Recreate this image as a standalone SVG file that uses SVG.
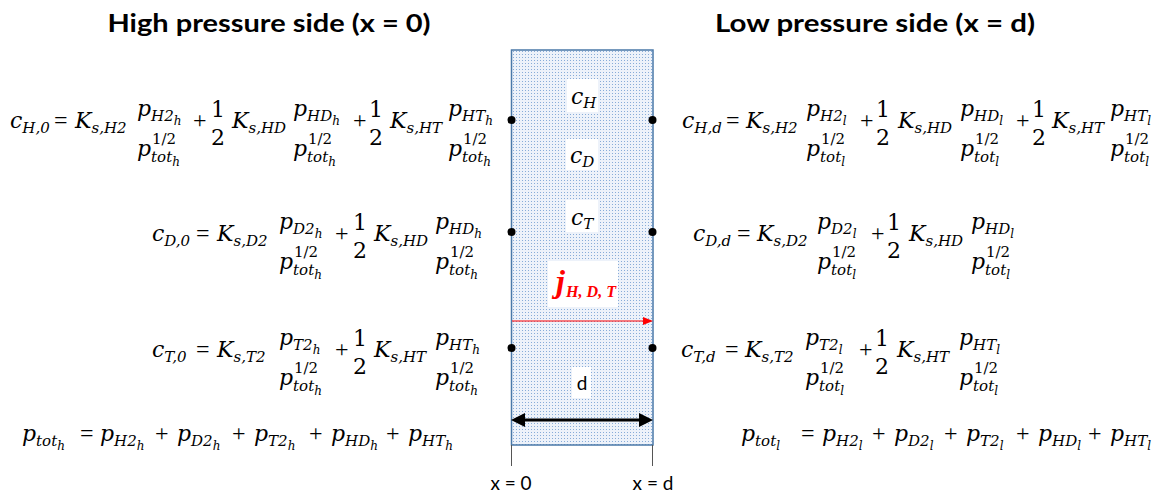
<svg xmlns="http://www.w3.org/2000/svg" width="1169" height="495" viewBox="0 0 1169 495">
<style>
.m{font-family:"DejaVu Serif",serif;font-style:italic;font-size:22px;fill:#000}
.s{font-size:15px}
.ss{font-size:12px}
.n{font-style:normal}
.o{font-family:"Liberation Serif",serif;font-size:24px;fill:#000}
.t{font-family:Lato,"Liberation Sans",sans-serif;font-weight:bold;font-size:25px;fill:#000}
.lab{font-family:Lato,"Liberation Sans",sans-serif;font-size:19px;fill:#000}
.j{font-family:"Liberation Serif",serif;font-style:italic;font-weight:bold;fill:#ff0000}
.dot{fill:#000}
.wb{fill:#fff}
</style>
<defs>
<pattern id="dots" width="3" height="3" patternUnits="userSpaceOnUse">
<rect width="3" height="3" fill="#edf2fa"/>
<rect width="1" height="1" fill="#88acd8"/>
</pattern>
<marker id="arrRed" markerWidth="10" markerHeight="8" refX="0" refY="4" orient="auto" markerUnits="userSpaceOnUse"><path d="M0,0 L10,4 L0,8 z" fill="#ff0000"/></marker>
<marker id="arrBlk" markerWidth="14" markerHeight="14" refX="0" refY="7" orient="auto-start-reverse" markerUnits="userSpaceOnUse"><path d="M0,0 L14,7 L0,14 z" fill="#000"/></marker>
</defs>
<rect width="1169" height="495" fill="#fff"/>

<g id="title-high"><text class="t" x="269" y="32" text-anchor="middle" textLength="323" lengthAdjust="spacingAndGlyphs">High pressure side (x = 0)</text></g>
<g id="title-low"><text class="t" x="875" y="32" text-anchor="middle" textLength="320" lengthAdjust="spacingAndGlyphs">Low pressure side (x = d)</text></g>

<g id="membrane">
<rect x="511.5" y="50" width="141.5" height="395" fill="url(#dots)" stroke="#4a78a8" stroke-width="1.5"/>
<line x1="511.5" y1="445" x2="511.5" y2="466" stroke="#555" stroke-width="1"/>
<line x1="652.5" y1="445" x2="652.5" y2="466" stroke="#555" stroke-width="1"/>
</g>

<g id="label-cH"><rect class="wb" x="567" y="79" width="31" height="33"/><text class="m" x="571" y="104">c<tspan class="s" dy="4">H</tspan></text></g>
<g id="label-cD"><rect class="wb" x="566" y="139" width="32" height="31"/><text class="m" x="570" y="163">c<tspan class="s" dy="4">D</tspan></text></g>
<g id="label-cT"><rect class="wb" x="566" y="200" width="32" height="32"/><text class="m" x="571" y="225">c<tspan class="s" dy="4">T</tspan></text></g>
<g id="label-j"><rect class="wb" x="548" y="261" width="70" height="46"/><text class="j" x="556" y="292" font-size="32">j</text><text class="j" x="566" y="297" font-size="17" textLength="50" lengthAdjust="spacingAndGlyphs">H, D, T</text></g>
<g id="label-d"><rect class="wb" x="572" y="367" width="19" height="31"/><text class="lab" x="582" y="390" text-anchor="middle" font-size="20">d</text></g>

<g id="endpoints">
<circle class="dot" cx="511.5" cy="120" r="4"/><circle class="dot" cx="652.5" cy="120" r="4"/>
<circle class="dot" cx="511.5" cy="232" r="4"/><circle class="dot" cx="652.5" cy="232" r="4"/>
<circle class="dot" cx="511.5" cy="348" r="4"/><circle class="dot" cx="652.5" cy="348" r="4"/>
</g>

<g id="connectors">
<line x1="512" y1="321" x2="643" y2="321" stroke="#ff0000" stroke-width="1" marker-end="url(#arrRed)"/>
<line x1="525" y1="420" x2="639" y2="420" stroke="#000" stroke-width="3" marker-start="url(#arrBlk)" marker-end="url(#arrBlk)"/>
</g>

<g id="axis-labels">
<text class="lab" x="511" y="490" text-anchor="middle">x = 0</text>
<text class="lab" x="653" y="490" text-anchor="middle">x = d</text>
</g>

<!-- Left equations -->
<g id="eq-cH0" transform="translate(10,128)">
<text class="m">c<tspan class="s" dy="5">H,0</tspan></text>
<text class="o" x="44">=</text>
<text class="m" x="65">K<tspan class="s" dy="5">s,H2</tspan></text>
<g transform="translate(127,0)"><text class="m" y="-12">p<tspan class="s" dy="5">H2</tspan><tspan class="ss" dy="4">h</tspan></text><text class="m" y="28">p<tspan class="s" dy="6">tot</tspan><tspan class="ss" dy="4">h</tspan></text><text class="m n s" x="15" y="16">1/2</text></g>
<text class="o" x="183">+</text>
<text class="m n" x="208" y="-11" text-anchor="middle">1</text><text class="m n" x="208" y="17" text-anchor="middle">2</text>
<text class="m" x="222">K<tspan class="s" dy="5">s,HD</tspan></text>
<g transform="translate(283,0)"><text class="m" y="-12">p<tspan class="s" dy="5">HD</tspan><tspan class="ss" dy="4">h</tspan></text><text class="m" y="28">p<tspan class="s" dy="6">tot</tspan><tspan class="ss" dy="4">h</tspan></text><text class="m n s" x="15" y="16">1/2</text></g>
<text class="o" x="343">+</text>
<text class="m n" x="366" y="-11" text-anchor="middle">1</text><text class="m n" x="366" y="17" text-anchor="middle">2</text>
<text class="m" x="380">K<tspan class="s" dy="5">s,HT</tspan></text>
<g transform="translate(438,0)"><text class="m" y="-12">p<tspan class="s" dy="5">HT</tspan><tspan class="ss" dy="4">h</tspan></text><text class="m" y="28">p<tspan class="s" dy="6">tot</tspan><tspan class="ss" dy="4">h</tspan></text><text class="m n s" x="15" y="16">1/2</text></g>
</g>

<g id="eq-cD0" transform="translate(152,241)">
<text class="m">c<tspan class="s" dy="5">D,0</tspan></text>
<text class="o" x="44">=</text>
<text class="m" x="65">K<tspan class="s" dy="5">s,D2</tspan></text>
<g transform="translate(127,0)"><text class="m" y="-12">p<tspan class="s" dy="5">D2</tspan><tspan class="ss" dy="4">h</tspan></text><text class="m" y="28">p<tspan class="s" dy="6">tot</tspan><tspan class="ss" dy="4">h</tspan></text><text class="m n s" x="15" y="16">1/2</text></g>
<text class="o" x="183">+</text>
<text class="m n" x="208" y="-11" text-anchor="middle">1</text><text class="m n" x="208" y="17" text-anchor="middle">2</text>
<text class="m" x="222">K<tspan class="s" dy="5">s,HD</tspan></text>
<g transform="translate(283,0)"><text class="m" y="-12">p<tspan class="s" dy="5">HD</tspan><tspan class="ss" dy="4">h</tspan></text><text class="m" y="28">p<tspan class="s" dy="6">tot</tspan><tspan class="ss" dy="4">h</tspan></text><text class="m n s" x="15" y="16">1/2</text></g>
</g>

<g id="eq-cT0" transform="translate(152,357)">
<text class="m">c<tspan class="s" dy="5">T,0</tspan></text>
<text class="o" x="44">=</text>
<text class="m" x="65">K<tspan class="s" dy="5">s,T2</tspan></text>
<g transform="translate(127,0)"><text class="m" y="-12">p<tspan class="s" dy="5">T2</tspan><tspan class="ss" dy="4">h</tspan></text><text class="m" y="28">p<tspan class="s" dy="6">tot</tspan><tspan class="ss" dy="4">h</tspan></text><text class="m n s" x="15" y="16">1/2</text></g>
<text class="o" x="183">+</text>
<text class="m n" x="208" y="-11" text-anchor="middle">1</text><text class="m n" x="208" y="17" text-anchor="middle">2</text>
<text class="m" x="222">K<tspan class="s" dy="5">s,HT</tspan></text>
<g transform="translate(283,0)"><text class="m" y="-12">p<tspan class="s" dy="5">HT</tspan><tspan class="ss" dy="4">h</tspan></text><text class="m" y="28">p<tspan class="s" dy="6">tot</tspan><tspan class="ss" dy="4">h</tspan></text><text class="m n s" x="15" y="16">1/2</text></g>
</g>

<g id="eq-ptot-h">
<text class="m" x="22" y="441">p<tspan class="s" dy="5">tot</tspan><tspan class="ss" dy="4">h</tspan></text>
<text class="o" x="80" y="441">=</text>
<text class="m" x="100" y="441">p<tspan class="s" dy="5">H2</tspan><tspan class="ss" dy="4">h</tspan></text>
<text class="o" x="155" y="441">+</text>
<text class="m" x="177" y="441">p<tspan class="s" dy="5">D2</tspan><tspan class="ss" dy="4">h</tspan></text>
<text class="o" x="232" y="441">+</text>
<text class="m" x="254" y="441">p<tspan class="s" dy="5">T2</tspan><tspan class="ss" dy="4">h</tspan></text>
<text class="o" x="309" y="441">+</text>
<text class="m" x="331" y="441">p<tspan class="s" dy="5">HD</tspan><tspan class="ss" dy="4">h</tspan></text>
<text class="o" x="386" y="441">+</text>
<text class="m" x="408" y="441">p<tspan class="s" dy="5">HT</tspan><tspan class="ss" dy="4">h</tspan></text>
</g>

<!-- Right equations -->
<g id="eq-cHd" transform="translate(682,128)">
<text class="m">c<tspan class="s" dy="5">H,d</tspan></text>
<text class="o" x="44">=</text>
<text class="m" x="64">K<tspan class="s" dy="5">s,H2</tspan></text>
<g transform="translate(124,0)"><text class="m" y="-12">p<tspan class="s" dy="5">H2</tspan><tspan class="ss" dy="4">l</tspan></text><text class="m" y="28">p<tspan class="s" dy="6">tot</tspan><tspan class="ss" dy="4">l</tspan></text><text class="m n s" x="15" y="16">1/2</text></g>
<text class="o" x="178">+</text>
<text class="m n" x="201" y="-11" text-anchor="middle">1</text><text class="m n" x="201" y="17" text-anchor="middle">2</text>
<text class="m" x="216">K<tspan class="s" dy="5">s,HD</tspan></text>
<g transform="translate(278,0)"><text class="m" y="-12">p<tspan class="s" dy="5">HD</tspan><tspan class="ss" dy="4">l</tspan></text><text class="m" y="28">p<tspan class="s" dy="6">tot</tspan><tspan class="ss" dy="4">l</tspan></text><text class="m n s" x="15" y="16">1/2</text></g>
<text class="o" x="334">+</text>
<text class="m n" x="357" y="-11" text-anchor="middle">1</text><text class="m n" x="357" y="17" text-anchor="middle">2</text>
<text class="m" x="370">K<tspan class="s" dy="5">s,HT</tspan></text>
<g transform="translate(428,0)"><text class="m" y="-12">p<tspan class="s" dy="5">HT</tspan><tspan class="ss" dy="4">l</tspan></text><text class="m" y="28">p<tspan class="s" dy="6">tot</tspan><tspan class="ss" dy="4">l</tspan></text><text class="m n s" x="15" y="16">1/2</text></g>
</g>

<g id="eq-cDd" transform="translate(693,241)">
<text class="m">c<tspan class="s" dy="5">D,d</tspan></text>
<text class="o" x="44">=</text>
<text class="m" x="64">K<tspan class="s" dy="5">s,D2</tspan></text>
<g transform="translate(124,0)"><text class="m" y="-12">p<tspan class="s" dy="5">D2</tspan><tspan class="ss" dy="4">l</tspan></text><text class="m" y="28">p<tspan class="s" dy="6">tot</tspan><tspan class="ss" dy="4">l</tspan></text><text class="m n s" x="15" y="16">1/2</text></g>
<text class="o" x="178">+</text>
<text class="m n" x="201" y="-11" text-anchor="middle">1</text><text class="m n" x="201" y="17" text-anchor="middle">2</text>
<text class="m" x="216">K<tspan class="s" dy="5">s,HD</tspan></text>
<g transform="translate(278,0)"><text class="m" y="-12">p<tspan class="s" dy="5">HD</tspan><tspan class="ss" dy="4">l</tspan></text><text class="m" y="28">p<tspan class="s" dy="6">tot</tspan><tspan class="ss" dy="4">l</tspan></text><text class="m n s" x="15" y="16">1/2</text></g>
</g>

<g id="eq-cTd" transform="translate(681,357)">
<text class="m">c<tspan class="s" dy="5">T,d</tspan></text>
<text class="o" x="44">=</text>
<text class="m" x="64">K<tspan class="s" dy="5">s,T2</tspan></text>
<g transform="translate(124,0)"><text class="m" y="-12">p<tspan class="s" dy="5">T2</tspan><tspan class="ss" dy="4">l</tspan></text><text class="m" y="28">p<tspan class="s" dy="6">tot</tspan><tspan class="ss" dy="4">l</tspan></text><text class="m n s" x="15" y="16">1/2</text></g>
<text class="o" x="178">+</text>
<text class="m n" x="201" y="-11" text-anchor="middle">1</text><text class="m n" x="201" y="17" text-anchor="middle">2</text>
<text class="m" x="216">K<tspan class="s" dy="5">s,HT</tspan></text>
<g transform="translate(278,0)"><text class="m" y="-12">p<tspan class="s" dy="5">HT</tspan><tspan class="ss" dy="4">l</tspan></text><text class="m" y="28">p<tspan class="s" dy="6">tot</tspan><tspan class="ss" dy="4">l</tspan></text><text class="m n s" x="15" y="16">1/2</text></g>
</g>

<g id="eq-ptot-l">
<text class="m" x="741" y="441">p<tspan class="s" dy="5">tot</tspan><tspan class="ss" dy="4">l</tspan></text>
<text class="o" x="801" y="441">=</text>
<text class="m" x="822" y="441">p<tspan class="s" dy="5">H2</tspan><tspan class="ss" dy="4">l</tspan></text>
<text class="o" x="872" y="441">+</text>
<text class="m" x="894" y="441">p<tspan class="s" dy="5">D2</tspan><tspan class="ss" dy="4">l</tspan></text>
<text class="o" x="944" y="441">+</text>
<text class="m" x="966" y="441">p<tspan class="s" dy="5">T2</tspan><tspan class="ss" dy="4">l</tspan></text>
<text class="o" x="1016" y="441">+</text>
<text class="m" x="1038" y="441">p<tspan class="s" dy="5">HD</tspan><tspan class="ss" dy="4">l</tspan></text>
<text class="o" x="1088" y="441">+</text>
<text class="m" x="1110" y="441">p<tspan class="s" dy="5">HT</tspan><tspan class="ss" dy="4">l</tspan></text>
</g>
</svg>
